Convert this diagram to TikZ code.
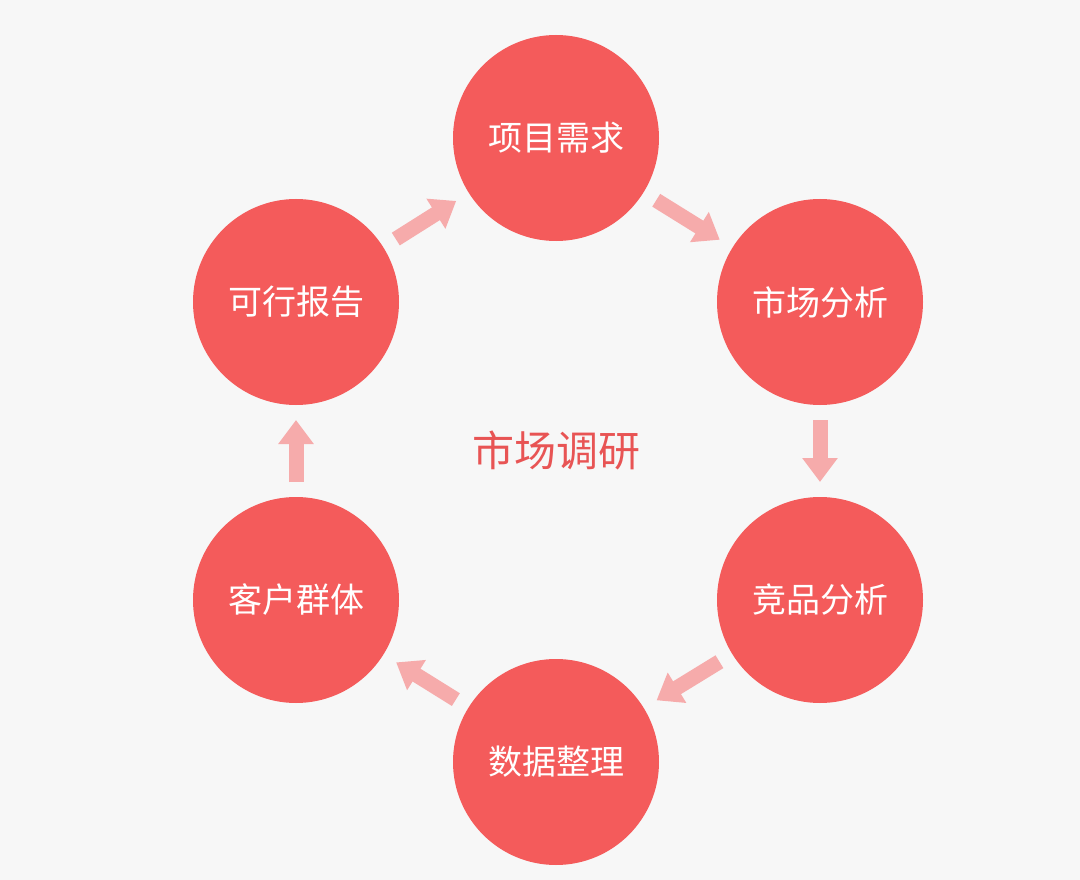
\documentclass[tikz,border=0pt]{standalone}
\usepackage{fontspec}
\newfontfamily\cjk{Noto Sans CJK SC}
\usetikzlibrary{arrows.meta}
\definecolor{bg}{HTML}{F7F7F7}
\definecolor{cred}{HTML}{F45B5B}
\definecolor{apink}{HTML}{F6ABAB}
\definecolor{tred}{HTML}{E85454}
\tikzset{
 stepc/.style={circle,fill=cred,minimum size=206pt,inner sep=0pt,text=white,font=\cjk\fontsize{34}{40}\selectfont},
 arr/.style={apink,line width=15pt,-{Triangle[width=34pt,length=24pt]},shorten <=118pt,shorten >=118pt}
}
\begin{document}
\begin{tikzpicture}[x=1pt,y=-1pt]
\fill[bg] (0,0) rectangle (1080,880);
\useasboundingbox (0,0) rectangle (1080,880);
\node[stepc] (a) at (556,138) {项目需求};
\node[stepc] (b) at (820,302) {市场分析};
\node[stepc] (c) at (820,600) {竞品分析};
\node[stepc] (d) at (556,762) {数据整理};
\node[stepc] (e) at (296,600) {客户群体};
\node[stepc] (f) at (296,302) {可行报告};
\node[text=tred,font=\cjk\fontsize{42}{50}\selectfont] (t) at (556,450) {市场调研};
\draw[arr] (a.center) -- (b.center);
\draw[arr] (b.center) -- (c.center);
\draw[arr] (c.center) -- (d.center);
\draw[arr] (d.center) -- (e.center);
\draw[arr] (e.center) -- (f.center);
\draw[arr] (f.center) -- (a.center);
\end{tikzpicture}
\end{document}
